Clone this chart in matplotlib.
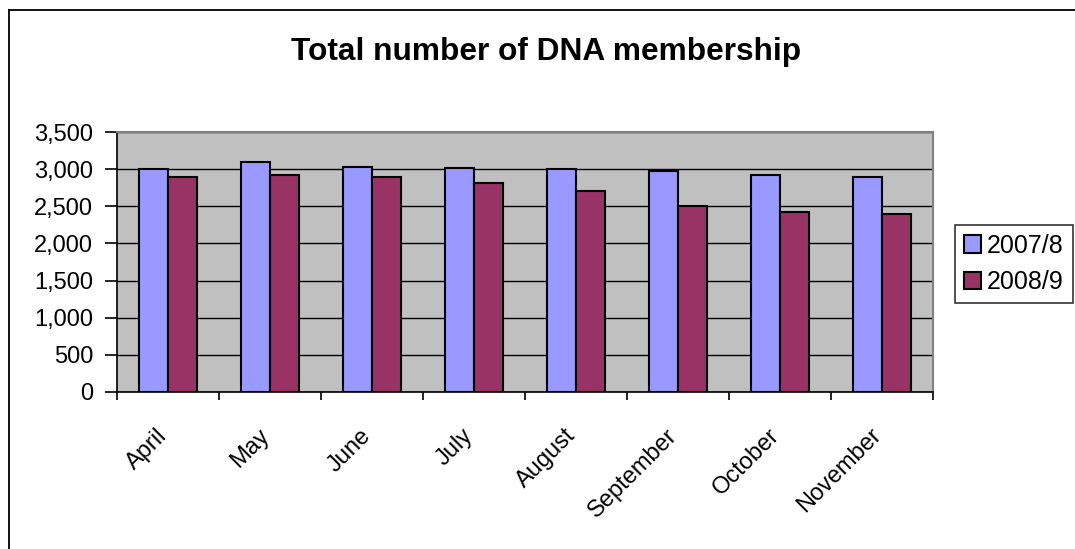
import matplotlib
matplotlib.use('Agg')
import matplotlib.pyplot as plt
import matplotlib.transforms as mtransforms
from matplotlib.lines import Line2D
from matplotlib.ticker import FuncFormatter, FixedLocator
import numpy as np

plt.rcParams['font.family'] = ['Liberation Sans', 'DejaVu Sans']

months = ['April', 'May', 'June', 'July', 'August', 'September', 'October', 'November']
members_2007 = [3000, 3100, 3025, 3020, 3000, 2970, 2915, 2890]
members_2008 = [2890, 2920, 2890, 2815, 2705, 2510, 2420, 2390]

fig = plt.figure(figsize=(10.75, 5.49), dpi=100)
ax = fig.add_axes([117 / 1075, 1 - 392 / 549, 816 / 1075, 260 / 549])

x = np.arange(len(months))
w = 1 / 3.5
ax.set_facecolor('#C0C0C0')
ax.bar(x - w / 2, members_2007, width=w, color='#9999FF', edgecolor='black',
       linewidth=1.5, label='2007/8', zorder=3)
ax.bar(x + w / 2, members_2008, width=w, color='#993366', edgecolor='black',
       linewidth=1.5, label='2008/9', zorder=3)

ax.set_xlim(-0.5, len(months) - 0.5)
ax.set_ylim(0, 3500)
ax.set_yticks(np.arange(0, 3501, 500))
ax.yaxis.set_major_formatter(FuncFormatter(lambda v, p: f'{int(v):,}'))
ax.yaxis.grid(True, color='black', linewidth=1.0, zorder=1)
ax.set_axisbelow(True)

# ticks at category boundaries, labels at centres
ax.xaxis.set_major_locator(FixedLocator(np.arange(-0.5, len(months), 1)))
ax.xaxis.set_major_formatter(plt.NullFormatter())
ax.set_xticks(x, minor=True)
ax.set_xticklabels(months, minor=True, rotation=45, ha='right', va='baseline',
                   rotation_mode='anchor', fontsize=17)
shift = mtransforms.ScaledTranslation(-7 / 100, 0, fig.dpi_scale_trans)
for lbl in ax.get_xticklabels(minor=True):
    lbl.set_transform(lbl.get_transform() + shift)
ax.tick_params(axis='x', which='minor', length=0, pad=32)
ax.tick_params(axis='x', which='major', length=5.8, width=1.2, direction='out')
ax.tick_params(axis='y', length=8.6, width=1.2, direction='out', labelsize=17, pad=8.6)

for s in ['top', 'right']:
    ax.spines[s].set_color('#808080')
    ax.spines[s].set_linewidth(1.5)
for s in ['left', 'bottom']:
    ax.spines[s].set_color('black')
    ax.spines[s].set_linewidth(1.2)

fig.text(546 / 1075, 1 - 60 / 549, 'Total number of DNA membership', ha='center',
         va='baseline', fontsize=22.8, fontweight='bold')

leg = fig.legend(loc='center left', bbox_to_anchor=(955 / 1075, 1 - 264 / 549),
                 fontsize=18, frameon=True, fancybox=False, edgecolor='black',
                 handlelength=0.68, handleheight=0.68, handletextpad=0.25,
                 borderpad=0.35, labelspacing=0.5, borderaxespad=0)
leg.get_frame().set_linewidth(1.2)

# outer chart frame (top and left edges)
fig.add_artist(Line2D([9 / 1075, 9 / 1075], [0, 1 - 10 / 549], color='black', lw=1.3))
fig.add_artist(Line2D([9 / 1075, 1], [1 - 10 / 549, 1 - 10 / 549], color='black', lw=1.3))

fig.savefig('out.png', dpi=100)
